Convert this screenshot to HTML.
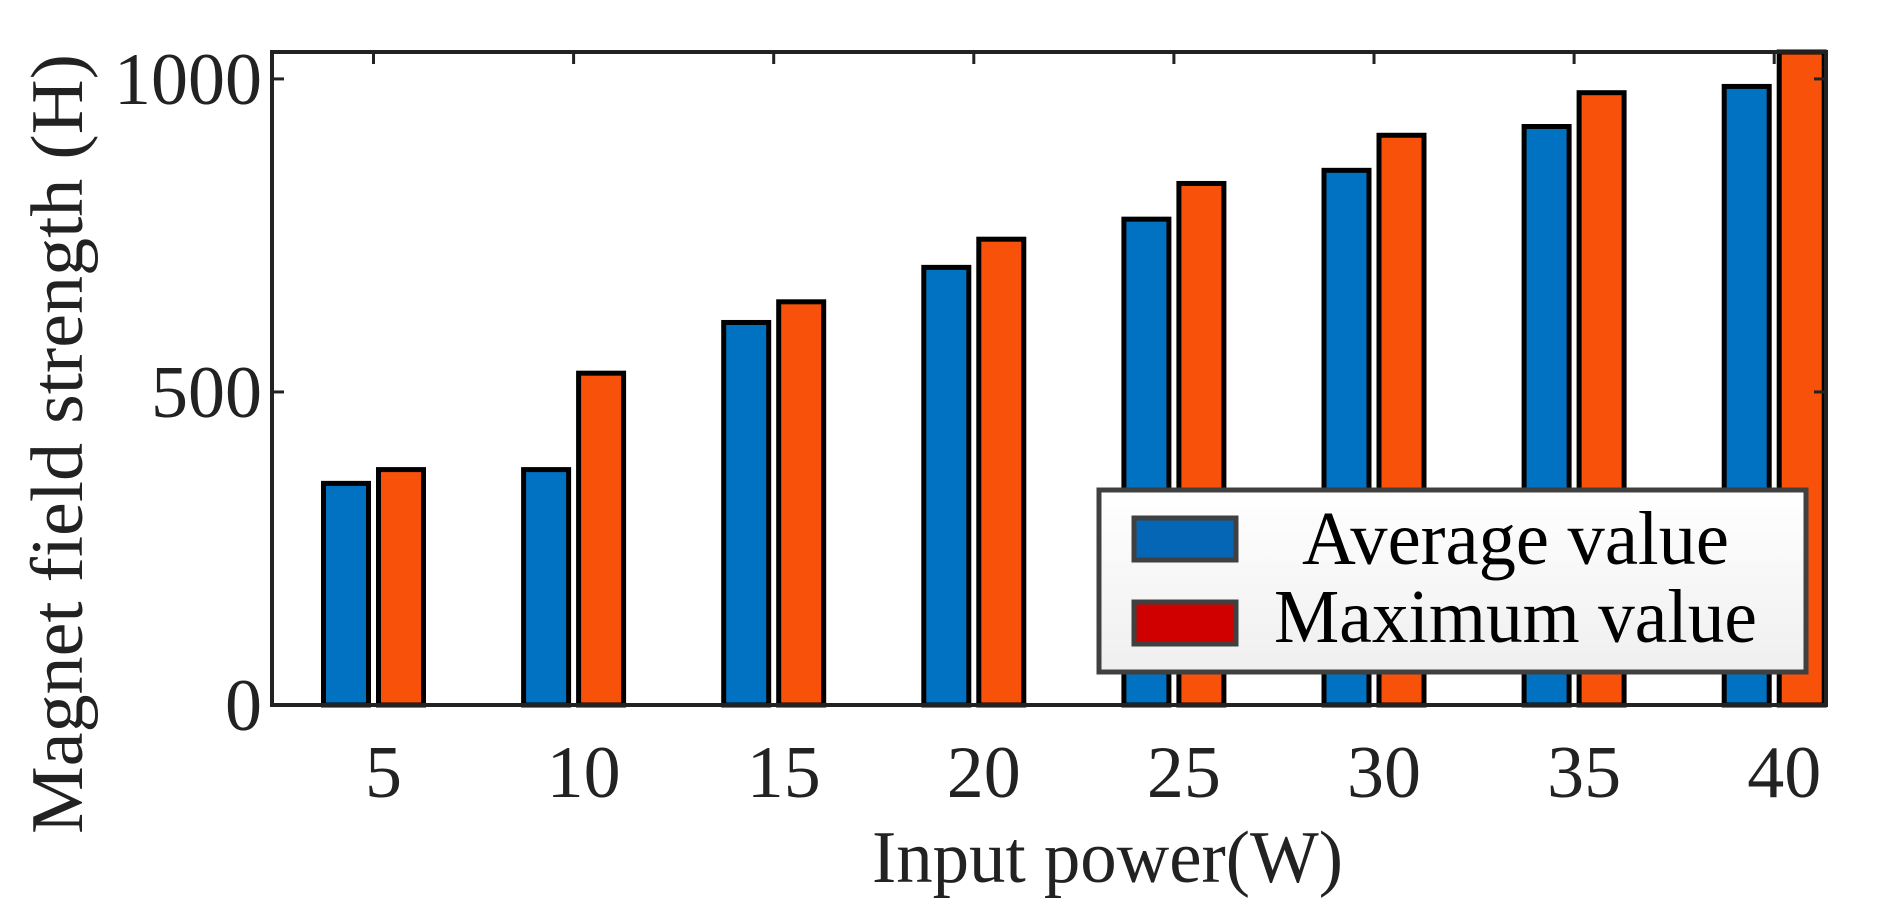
<!DOCTYPE html>
<html><head><meta charset="utf-8"><style>
html,body{margin:0;padding:0;background:#fff;}
svg{display:block;}
text{font-family:"Liberation Serif","Times New Roman",serif;fill:#222;}
</style></head><body>
<svg id="chart" width="1894" height="913" viewBox="0 0 1894 913" xmlns="http://www.w3.org/2000/svg" font-family="Liberation Serif, serif">
<defs>
<linearGradient id="lg" x1="0" y1="0" x2="0" y2="1"><stop offset="0" stop-color="#ffffff"/><stop offset="1" stop-color="#efefef"/></linearGradient>
</defs>
<g id="bars"></g>
<g id="axes"></g>
<g id="legend">
  <rect x="1099" y="490" width="707" height="182" fill="url(#lg)" stroke="#404040" stroke-width="5"/>
  <rect x="1134" y="518" width="102" height="42" fill="#0466b4" stroke="#404040" stroke-width="5"/>
  <text x="1302" y="564" font-family="Liberation Serif, serif" font-size="76" textLength="427" lengthAdjust="spacingAndGlyphs" style="fill:#000">Average value</text>
  <rect x="1134" y="602" width="102" height="42" fill="#d00000" stroke="#404040" stroke-width="5"/>
  <text x="1274" y="642" font-family="Liberation Serif, serif" font-size="76" textLength="483" lengthAdjust="spacingAndGlyphs" style="fill:#000">Maximum value</text>
</g>
</svg>
<script>
const categories = ["5","10","15","20","25","30","35","40"];
const averageValues = [354, 376, 611, 699, 776, 854, 924, 988];
const maximumValues = [376, 530, 644, 744, 833, 910, 978, 1100];
const yTicks = [0, 500, 1000];

const NS = "http://www.w3.org/2000/svg";
const L = 272, R = 1826, T = 52, B = 705;
const yMax = 1043;
function y(v){ return B - (Math.min(v, yMax) / yMax) * (B - T); }
function xc(i){ return 373.5 + i * 200.1; }
function mk(tag, attrs, parent){ const e = document.createElementNS(NS, tag); for (const k in attrs) e.setAttribute(k, attrs[k]); parent.appendChild(e); return e; }

const bars = document.getElementById('bars');
const axes = document.getElementById('axes');
const bw = 45;
categories.forEach((c, i) => {
  const cx = xc(i);
  const a = mk('rect', {x: cx - 50, y: y(averageValues[i]), width: bw, height: B - y(averageValues[i]), fill: '#0072c1', stroke: '#000', 'stroke-width': 5}, bars);
  
  
  const m = mk('rect', {x: cx + 5, y: y(maximumValues[i]), width: bw, height: B - y(maximumValues[i]), fill: '#f8520a', stroke: '#000', 'stroke-width': 5}, bars);
  
  
  const tk = mk('line', {x1: cx, x2: cx, y1: T, y2: T + 12, stroke: '#222', 'stroke-width': 3}, axes);
  
  
  const t = mk('text', {x: cx + 10, y: 797, 'font-size': 74, 'font-family': 'Liberation Serif, serif', 'text-anchor': 'middle'}, axes);
  t.textContent = c;
  
  
});
yTicks.forEach(v => {
  const yy = y(v);
  const t1 = mk('line', {x1: L, x2: L + 12, y1: yy, y2: yy, stroke: '#222', 'stroke-width': 3}, axes);
  
  
  const t2 = mk('line', {x1: R - 12, x2: R, y1: yy, y2: yy, stroke: '#222', 'stroke-width': 3}, axes);
  
  
  const tx = mk('text', {x: 262, y: yy + 25, 'font-size': 74, 'font-family': 'Liberation Serif, serif', 'text-anchor': 'end'}, axes);
  tx.textContent = String(v);
  
  
});
const frame = mk('rect', {x: L, y: T, width: R - L, height: B - T, fill: 'none', stroke: '#222', 'stroke-width': 4}, axes);


const xt = mk('text', {x: 872, y: 882, 'font-size': 74, 'font-family': 'Liberation Serif, serif', textLength: 471, lengthAdjust: 'spacingAndGlyphs'}, axes);
xt.textContent = 'Input power(W)';


const yt = mk('text', {x: 0, y: 0, 'font-size': 74, 'font-family': 'Liberation Serif, serif', 'text-anchor': 'middle', transform: 'translate(82,444) rotate(-90)', textLength: 780, lengthAdjust: 'spacingAndGlyphs'}, axes);
yt.textContent = 'Magnet field strength (H)';


</script>
</body></html>
